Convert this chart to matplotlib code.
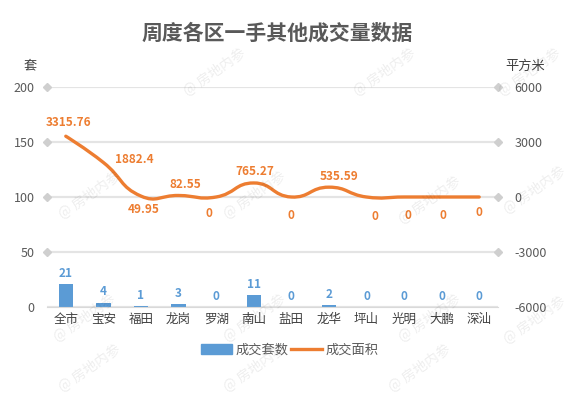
import matplotlib
matplotlib.use("Agg")
import matplotlib.pyplot as plt
from matplotlib.path import Path
from matplotlib.patches import PathPatch
from matplotlib.lines import Line2D
from matplotlib.patches import Patch
import numpy as np

plt.rcParams['font.family'] = ['Noto Sans CJK SC', 'DejaVu Sans']
plt.rcParams['axes.unicode_minus'] = False

# data
districts = ['全市', '宝安', '福田', '龙岗', '罗湖', '南山', '盐田', '龙华', '坪山', '光明', '大鹏', '深汕']
units = [21, 4, 1, 3, 0, 11, 0, 2, 0, 0, 0, 0]
area = [3315.76, 1882.4, 49.95, 82.55, 0, 765.27, 0, 535.59, 0, 0, 0, 0]
area_labels = ['3315.76', '1882.4', '49.95', '82.55', '0', '765.27', '0', '535.59', '0', '0', '0', '0']
left_ticks = [0, 50, 100, 150, 200]
right_ticks = [-6000, -3000, 0, 3000, 6000]

# label offsets in points (dx, dy)
area_label_off = [(2, 10), (22, 2), (2, -10), (5, 8), (-5, -12), (1, 8), (0, -13), (7, 8),
                  (6, -14), (3, -13), (1, -13), (0, -11)]

blue = '#5b9bd5'
orange = '#ed7d31'
grid_c = '#e4e4e4'

fig = plt.figure(figsize=(5.77, 3.99), dpi=100)
ax = fig.add_axes([47 / 577, 1 - 307 / 399, 451 / 577, 220 / 399])
ax2 = ax.twinx()

x = np.arange(len(districts))
ax.bar(x, units, width=0.38, color=blue, zorder=2)
ax.set_xlim(-0.5, len(districts) - 0.5)
ax.set_ylim(0, 200)
ax2.set_ylim(-6000, 6000)

for xi, v in zip(x, units):
    ax.annotate(str(v), (xi, v), xytext=(0, 3), textcoords='offset points',
                ha='center', va='bottom', color=blue, fontsize=8.5, fontweight='bold')

# gridlines with diamond ends
for t in left_ticks:
    ax.axhline(t, color=grid_c, lw=1.6, zorder=0)
    if t > 0:
        ax.plot([-0.5, len(districts) - 0.5], [t, t], ls='none', marker='D', ms=4.5,
                color='#cfcfcf', clip_on=False, zorder=1)

# smooth line (bezier, echarts style)
fig.canvas.draw()
pts = ax2.transData.transform(np.column_stack([x, area]))
smooth = 0.5
n = len(pts)
verts = [pts[0]]
codes = [Path.MOVETO]
cps_after = []
cps_before = []
for i in range(n):
    if i == 0 or i == n - 1:
        cps_before.append(pts[i])
        cps_after.append(pts[i])
        continue
    v = pts[i + 1] - pts[i - 1]
    d0 = np.hypot(*(pts[i] - pts[i - 1]))
    d1 = np.hypot(*(pts[i + 1] - pts[i]))
    s = d0 + d1
    cps_before.append(pts[i] - v * smooth * d0 / s)
    cps_after.append(pts[i] + v * smooth * d1 / s)
for i in range(1, n):
    verts += [cps_after[i - 1], cps_before[i], pts[i]]
    codes += [Path.CURVE4] * 3
verts = ax2.transData.inverted().transform(np.array(verts))
ax2.add_patch(PathPatch(Path(verts, codes), fill=False, ec=orange, lw=2.4, zorder=3,
                        capstyle='round', joinstyle='round'))

for xi, v, lab, off in zip(x, area, area_labels, area_label_off):
    ax2.annotate(lab, (xi, v), xytext=off, textcoords='offset points',
                 ha='center', va='center', color=orange, fontsize=8.5, fontweight='bold')

# axes styling
for a in (ax, ax2):
    for sp in a.spines.values():
        sp.set_visible(False)
ax.spines['bottom'].set_visible(True)
ax.spines['bottom'].set_color('#d9d9d9')
ax.set_xticks(x)
ax.set_xticklabels(districts, fontsize=9, color='#404040')
ax.tick_params(axis='x', length=0, pad=4)
ax.set_yticks(left_ticks)
ax.tick_params(axis='y', length=0, labelsize=9, labelcolor='#595959', pad=9)
ax2.set_yticks(right_ticks)
ax2.tick_params(axis='y', length=0, labelsize=9, labelcolor='#595959', pad=12)

fig.text(277 / 577, 1 - 33 / 399, '周度各区一手其他成交量数据', ha='center', va='center',
         fontsize=15, fontweight='bold', color='#595959')
fig.text(30 / 577, 1 - 66 / 399, '套', ha='center', va='center', fontsize=9.5, color='#404040')
fig.text(525 / 577, 1 - 66 / 399, '平方米', ha='center', va='center', fontsize=9.5, color='#404040')

handles = [Patch(color=blue), Line2D([], [], color=orange, lw=2.4)]
fig.legend(handles, ['成交套数', '成交面积'], loc='center', bbox_to_anchor=(290 / 577, 1 - 350 / 399),
           ncol=2, frameon=False, fontsize=9.5, handlelength=2.3, handleheight=0.7,
           handletextpad=0.3, columnspacing=0.2, labelcolor='#595959')

# watermarks
marks = [(215, 72), (385, 72), (530, 72), (90, 195), (255, 195), (430, 200), (535, 190),
         (85, 318), (255, 318), (430, 318), (535, 320), (90, 368), (255, 368), (420, 368)]
for mx, my in marks:
    fig.text(mx / 577, 1 - my / 399, '@ 房地内参', ha='center', va='center', rotation=35,
             fontsize=10, color='#000000', alpha=0.07)

fig.savefig('out.png', dpi=100)
